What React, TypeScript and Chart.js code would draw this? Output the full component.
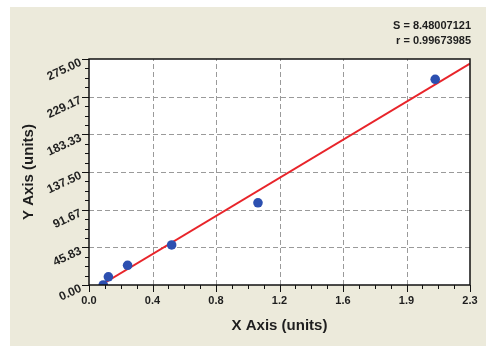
import React, { useEffect, useRef } from 'react';
import { Chart, registerables } from 'chart.js';

Chart.register(...registerables);

// ---- data ----
const pointsX = [0.086, 0.117, 0.233, 0.499, 1.02, 2.09];
const pointsY = [0, 10, 24, 48.7, 100, 250.3];
const fitX = [0.072, 2.3];
const fitY = [0, 269.5];
const xTickLabels = ['0.0', '0.4', '0.8', '1.2', '1.6', '1.9', '2.3'];
const yTickLabels = ['0.00', '45.83', '91.67', '137.50', '183.33', '229.17', '275.00'];
const X_MIN = 0;
const X_MAX = 2.3;
const Y_MIN = 0;
const Y_MAX = 275;
const statLines = ['S = 8.48007121', 'r = 0.99673985'];
const xTitle = 'X Axis (units)';
const yTitle = 'Y Axis (units)';

const FONT = "'Liberation Sans', Arial, sans-serif";
const TEXT = '#1e1e1e';
const BEIGE = '#ECEADB';
const GRID = '#9A9A9A';
const MINOR_PER = 3;

const majorValues = (min: number, max: number, n: number) =>
  Array.from({ length: n }, (_, i) => min + (i * (max - min)) / (n - 1));

const decorPlugin = {
  id: 'decor',
  beforeDraw(chart: any) {
    const { ctx, chartArea } = chart;
    ctx.save();
    ctx.fillStyle = '#ffffff';
    ctx.fillRect(0, 0, chart.width, chart.height);
    ctx.fillStyle = BEIGE;
    ctx.fillRect(10, 7, 476, 339);
    ctx.fillStyle = '#ffffff';
    ctx.fillRect(chartArea.left, chartArea.top, chartArea.right - chartArea.left, chartArea.bottom - chartArea.top);
    ctx.restore();
  },
  beforeDatasetsDraw(chart: any) {
    const { ctx, chartArea } = chart;
    const xs = chart.scales.x;
    const ys = chart.scales.y;
    ctx.save();
    ctx.strokeStyle = GRID;
    ctx.lineWidth = 1;
    ctx.setLineDash([5, 3]);
    majorValues(X_MIN, X_MAX, xTickLabels.length).slice(1, -1).forEach((v) => {
      const px = Math.round(xs.getPixelForValue(v)) + 0.5;
      ctx.beginPath();
      ctx.moveTo(px, chartArea.bottom);
      ctx.lineTo(px, chartArea.top);
      ctx.stroke();
    });
    majorValues(Y_MIN, Y_MAX, yTickLabels.length).slice(1, -1).forEach((v) => {
      const py = Math.round(ys.getPixelForValue(v)) + 0.5;
      ctx.beginPath();
      ctx.moveTo(chartArea.left, py);
      ctx.lineTo(chartArea.right, py);
      ctx.stroke();
    });
    ctx.restore();
  },
  afterDraw(chart: any) {
    const { ctx, chartArea } = chart;
    const xs = chart.scales.x;
    const ys = chart.scales.y;
    ctx.save();
    ctx.strokeStyle = '#111111';
    ctx.lineWidth = 1.5;
    ctx.strokeRect(chartArea.left, chartArea.top, chartArea.right - chartArea.left, chartArea.bottom - chartArea.top);
    ctx.lineWidth = 1;
    // x ticks
    const xm = majorValues(X_MIN, X_MAX, xTickLabels.length);
    xm.forEach((v, i) => {
      const px = Math.round(xs.getPixelForValue(v)) + 0.5;
      ctx.beginPath();
      ctx.moveTo(px, chartArea.bottom);
      ctx.lineTo(px, chartArea.bottom + 7);
      ctx.stroke();
      if (i < xm.length - 1) {
        for (let k = 1; k <= MINOR_PER; k++) {
          const mv = v + ((xm[i + 1] - v) * k) / (MINOR_PER + 1);
          const mp = Math.round(xs.getPixelForValue(mv)) + 0.5;
          ctx.beginPath();
          ctx.moveTo(mp, chartArea.bottom);
          ctx.lineTo(mp, chartArea.bottom + 4);
          ctx.stroke();
        }
      }
    });
    // y ticks
    const ym = majorValues(Y_MIN, Y_MAX, yTickLabels.length);
    ym.forEach((v, i) => {
      const py = Math.round(ys.getPixelForValue(v)) + 0.5;
      ctx.beginPath();
      ctx.moveTo(chartArea.left, py);
      ctx.lineTo(chartArea.left - 7, py);
      ctx.stroke();
      if (i < ym.length - 1) {
        for (let k = 1; k <= MINOR_PER; k++) {
          const mv = v + ((ym[i + 1] - v) * k) / (MINOR_PER + 1);
          const mp = Math.round(ys.getPixelForValue(mv)) + 0.5;
          ctx.beginPath();
          ctx.moveTo(chartArea.left, mp);
          ctx.lineTo(chartArea.left - 4, mp);
          ctx.stroke();
        }
      }
    });
    // stats text
    ctx.fillStyle = TEXT;
    ctx.font = `bold 11px ${FONT}`;
    ctx.textAlign = 'right';
    ctx.textBaseline = 'middle';
    statLines.forEach((t, i) => {
      ctx.fillText(t, chartArea.right + 1, 26 + i * 15);
    });
    ctx.restore();
  },
};

export default function App() {
  const ref = useRef<HTMLCanvasElement | null>(null);

  useEffect(() => {
    if (!ref.current) return;
    const chart = new Chart(ref.current, {
      type: 'scatter',
      data: {
        datasets: [
          {
            label: 'points',
            data: pointsX.map((x, i) => ({ x, y: pointsY[i] })),
            backgroundColor: '#2C4FB0',
            borderColor: '#2C4FB0',
            borderWidth: 0,
            pointRadius: 4.8,
            pointHoverRadius: 4.8,
          },
          {
            label: 'fit',
            data: fitX.map((x, i) => ({ x, y: fitY[i] })),
            showLine: true,
            borderColor: '#E8242A',
            borderWidth: 2,
            pointRadius: 0,
            pointHoverRadius: 0,
          },
        ],
      },
      options: {
        responsive: false,
        animation: false,
        events: [],
        layout: { padding: { top: 59, right: 20, left: 0, bottom: 0 } },
        plugins: {
          legend: { display: false },
          tooltip: { enabled: false },
        },
        scales: {
          x: {
            type: 'linear',
            min: X_MIN,
            max: X_MAX,
            afterBuildTicks: (s: any) => {
              s.ticks = majorValues(X_MIN, X_MAX, xTickLabels.length).map((value) => ({ value }));
            },
            afterFit: (s: any) => {
              s.height = 62;
            },
            ticks: {
              callback: (_v: any, i: number) => xTickLabels[i],
              font: { family: FONT, size: 11, weight: 'bold' },
              color: TEXT,
              padding: 9,
              maxRotation: 0,
              minRotation: 0,
            },
            grid: { display: false, drawTicks: false },
            border: { display: false },
            title: {
              display: true,
              text: xTitle,
              font: { family: FONT, size: 15, weight: 'bold' },
              color: TEXT,
              padding: { top: 0, bottom: 12 },
            },
          },
          y: {
            type: 'linear',
            min: Y_MIN,
            max: Y_MAX,
            afterBuildTicks: (s: any) => {
              s.ticks = majorValues(Y_MIN, Y_MAX, yTickLabels.length).map((value) => ({ value }));
            },
            afterFit: (s: any) => {
              s.width = 89;
            },
            ticks: {
              callback: (_v: any, i: number) => yTickLabels[i],
              font: { family: FONT, size: 12, weight: 'bold' },
              color: TEXT,
              padding: 8,
              labelOffset: 3,
              minRotation: 25,
              maxRotation: 25,
            },
            grid: { display: false, drawTicks: false },
            border: { display: false },
            title: {
              display: true,
              text: yTitle,
              font: { family: FONT, size: 15, weight: 'bold' },
              color: TEXT,
              padding: { top: 20, bottom: 0 },
            },
          },
        },
      } as any,
      plugins: [decorPlugin],
    });
    return () => chart.destroy();
  }, []);

  return (
    <div style={{ position: 'absolute', left: 0, top: 0, width: 490, height: 347 }}>
      <canvas ref={ref} width={490} height={347} style={{ display: 'block' }} />
    </div>
  );
}
